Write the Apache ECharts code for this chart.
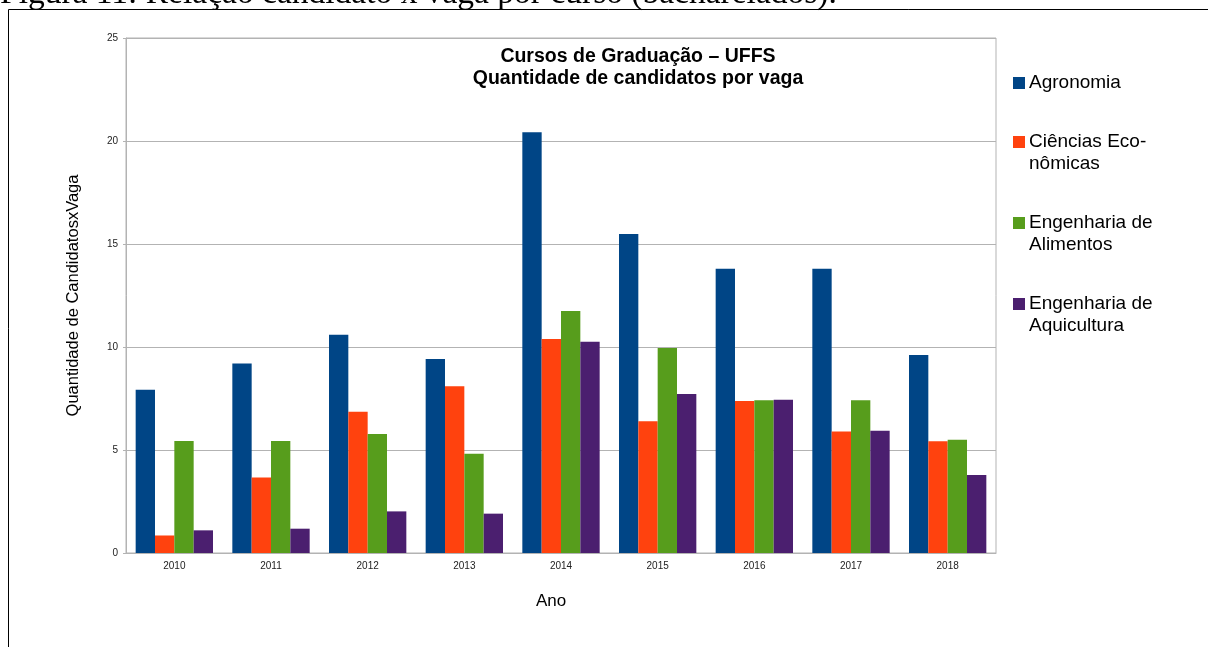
<!DOCTYPE html>
<html>
<head>
<meta charset="utf-8">
<script src="https://cdn.jsdelivr.net/npm/echarts@6/dist/echarts.min.js"></script>
<style>
html,body{margin:0;padding:0;background:#fff;}
#chart{width:1208px;height:647px;}
</style>
</head>
<body>
<div id="chart"></div>
<script>
const years = ['2010','2011','2012','2013','2014','2015','2016','2017','2018'];
const seriesNames = ['Agronomia','Ciências Econômicas','Engenharia de Alimentos','Engenharia de Aquicultura'];
const legendLines = [['Agronomia'],['Ciências Eco-','nômicas'],['Engenharia de','Alimentos'],['Engenharia de','Aquicultura']];
const agronomia   = [7.93, 9.2, 10.6, 9.42, 20.42, 15.49, 13.8, 13.8, 9.61];
const cienciasEco = [0.85, 3.66, 6.86, 8.1, 10.39, 6.39, 7.38, 5.9, 5.42];
const engAlimentos = [5.44, 5.44, 5.78, 4.82, 11.75, 9.95, 7.41, 7.41, 5.5];
const engAquicultura = [1.1, 1.18, 2.02, 1.91, 10.26, 7.72, 7.44, 5.94, 3.79];
const yTicks = [0, 5, 10, 15, 20, 25];
const colors = ['#004586','#ff420e','#579d1c','#4b1f6f'];
const chartTitle = 'Cursos de Graduação – UFFS\nQuantidade de candidatos por vaga';
const caption = 'Figura 11: Relação candidato x vaga por curso (bacharelados).';
const yName = 'Quantidade de CandidatosxVaga';
const xName = 'Ano';

const allData = [agronomia, cienciasEco, engAlimentos, engAquicultura];

const rich = { g: {width: 4}, i: {width: 16} };
colors.forEach((c, k) => { rich['s' + k] = {width: 12, height: 12, backgroundColor: c}; });

const chart = echarts.init(document.getElementById('chart'), null, {renderer: 'canvas'});
chart.setOption({
  animation: false,
  color: colors,
  title: {
    text: chartTitle,
    left: 633, top: 41, textAlign: 'center',
    textStyle: {fontFamily: 'Liberation Sans', fontSize: 19.5, fontWeight: 'bold', color: '#000', lineHeight: 22}
  },
  graphic: [
    {type: 'rect', shape: {x: 8.5, y: 9.5, width: 1220, height: 660}, style: {fill: 'none', stroke: '#000', lineWidth: 1}, silent: true},
    {type: 'text', style: {text: caption, x: 0, y: 11, verticalAlign: 'bottom', font: '33.5px "Liberation Serif"', fill: '#000'}, silent: true}
  ],
  legend: {
    orient: 'vertical', left: 1003, top: 67,
    itemWidth: 0, itemHeight: 0, itemGap: 37,
    data: seriesNames,
    formatter: function (name) {
      const k = seriesNames.indexOf(name);
      const lines = legendLines[k];
      let s = '{s' + k + '| }{g| }' + lines[0];
      for (let j = 1; j < lines.length; j++) s += '\n{i| }' + lines[j];
      return s;
    },
    textStyle: {fontFamily: 'Liberation Sans', fontSize: 19, color: '#000', lineHeight: 22, rich: rich}
  },
  grid: {left: 126, right: 212, top: 38, bottom: 94, show: true, borderColor: '#b3b3b3', borderWidth: 1},
  xAxis: {
    type: 'category', data: years,
    name: xName, nameLocation: 'middle', nameGap: 40,
    nameTextStyle: {fontFamily: 'Liberation Sans', fontSize: 17, color: '#000', padding: [0, 20, 0, 0]},
    axisLine: {lineStyle: {color: '#b3b3b3'}},
    axisTick: {length: 5, lineStyle: {color: '#b3b3b3'}},
    axisLabel: {fontFamily: 'Liberation Sans', fontSize: 10, color: '#222', margin: 8}
  },
  yAxis: {
    type: 'value', min: 0, max: 25, interval: 5,
    name: yName, nameLocation: 'middle', nameGap: 44, nameRotate: 90,
    nameTextStyle: {fontFamily: 'Liberation Sans', fontSize: 16.5, color: '#000'},
    axisLine: {show: true, lineStyle: {color: '#b3b3b3'}},
    axisTick: {show: true, length: 3, lineStyle: {color: '#b3b3b3'}},
    axisLabel: {fontFamily: 'Liberation Sans', fontSize: 10, color: '#222', margin: 8,
      formatter: function (v) { return yTicks.indexOf(v) >= 0 ? String(v) : ''; }},
    splitLine: {lineStyle: {color: '#b3b3b3'}}
  },
  series: seriesNames.map((n, k) => ({
    name: n, type: 'bar', data: allData[k],
    barGap: '0%', barCategoryGap: '20%',
    itemStyle: {color: colors[k]}
  }))
});
</script>
</body>
</html>
